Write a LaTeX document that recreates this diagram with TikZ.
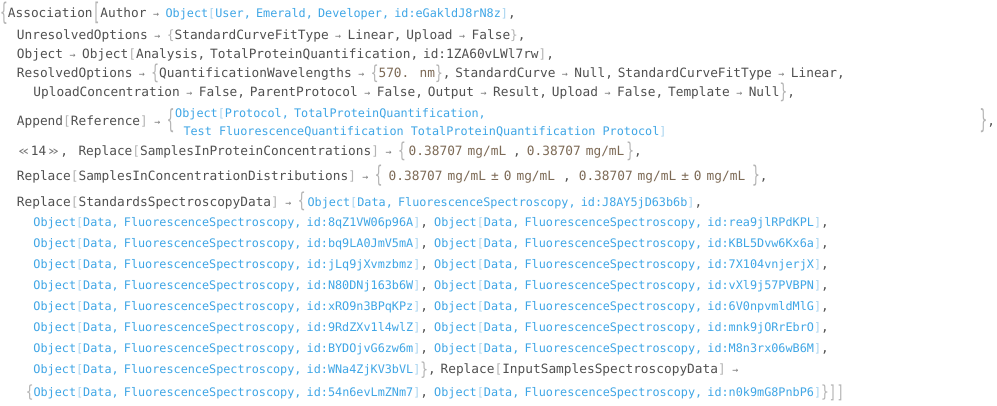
\documentclass[tikz,border=0pt]{standalone}
\usepackage{fontspec}
\usepackage{graphicx}
\newfontfamily\mono{DejaVu Sans Mono}
\definecolor{tgray}{HTML}{505050}
\definecolor{dgray}{HTML}{B4B4B4}
\definecolor{agray}{HTML}{7A7A7A}
\definecolor{oblue}{HTML}{3FA6E6}
\definecolor{oblk}{HTML}{A8D4F0}
\definecolor{qbr}{HTML}{7D6A56}
\newcommand\gfont{\mono\fontsize{12.8pt}{15pt}\selectfont}
\newcommand\bfont{\mono\fontsize{11.8pt}{14pt}\selectfont}
\newcommand\Ar{\hbox to 19pt{\hss{\fontsize{10pt}{10pt}\selectfont\color{agray}→}\hss}}
\newcommand\Cm{,\hspace{4.8pt}}
\newcommand\Bc{,\hspace{5.2pt}}
\newcommand\Lb{{\color{dgray}[}}
\newcommand\Rb{{\color{dgray}]}}
\newcommand\Lc{{\color{dgray}\{}}
\newcommand\Rc{{\color{dgray}\}}}
\newcommand\TD[3]{\raisebox{#3pt}{\scalebox{1}[#2]{\color{dgray}#1}}}
\newcommand\Ob[1]{{\bfont\color{oblue}Object{\color{oblk}[}#1{\color{oblk}]}}}
\newcommand\Qt[2]{{\color{qbr}#1\hspace{5pt}#2}}
\newcommand\FS[1]{\Ob{Data\Bc FluorescenceSpectroscopy\Bc id:#1}}
\tikzset{ln/.style={anchor=base west, inner sep=0pt, font=\gfont, text=tgray}}
\begin{document}
\begin{tikzpicture}[x=1pt,y=-1pt]
\fill[white] (0,0) rectangle (997,405);
\useasboundingbox (0,0) rectangle (997,405);
% line 1
\node[ln] (l1) at (0,17) {\TD{\{}{1.9}{-3.1}Association\TD{[}{1.9}{-3.1}Author\Ar\Ob{User\Bc Emerald\Bc Developer\Bc id:eGakldJ8rN8z},};
% line 2
\node[ln] (l2) at (16.7,39.5) {UnresolvedOptions\Ar\Lc StandardCurveFitType\Ar Linear\Cm Upload\Ar False\Rc,};
% line 3
\node[ln] (l3) at (16.7,58) {Object\Ar Object\Lb Analysis\Cm TotalProteinQuantification\Cm id:1ZA60vLWl7rw\Rb,};
% line 4
\node[ln] (l4) at (16.7,77.5) {ResolvedOptions\Ar\TD{\{}{1.6}{-1.9}QuantificationWavelengths\Ar\TD{\{}{1.5}{-2}{\color{qbr}570. nm}\TD{\}}{1.5}{-2}\Cm StandardCurve\Ar Null\Cm StandardCurveFitType\Ar Linear,};
% line 5
\node[ln] (l5) at (33.3,96.7) {UploadConcentration\Ar False\Cm ParentProtocol\Ar False\Cm Output\Ar Result\Cm Upload\Ar False\Cm Template\Ar Null\TD{\}}{1.6}{-2.2},};
% line 6
\node[ln] (l6) at (16.7,125) {Append\Lb Reference\Rb\Ar\TD{\{}{2.05}{-3.2}};
\node[ln, font=\bfont, text=oblue] (l6a) at (175,117.3) {\vtop{\baselineskip=17.7pt\lineskiplimit=-20pt\hbox{Object{\color{oblk}[}Protocol\Bc TotalProteinQuantification,}\hbox{\hspace{8.3pt}Test FluorescenceQuantification TotalProteinQuantification Protocol{\color{oblk}]}}}};
\node[ln] (l6c) at (979.5,125) {\TD{\}}{2.05}{-3.2},};
% line 7
\node[ln] (l7a) at (16.7,155.7) {\hbox to 14pt{\hss\scalebox{1.5}[1]{\color{agray}«}\hss}14\hbox to 14pt{\hss\scalebox{1.5}[1]{\color{agray}»}\hss},};
\node[ln] (l7) at (78.3,155.7) {Replace\Lb SamplesInProteinConcentrations\Rb\Ar\TD{\{}{1.6}{-1.9}\hspace{3pt}\Qt{0.38707}{mg/mL}\hspace{7pt},\hspace{6pt}\Qt{0.38707}{mg/mL}\hspace{2pt}\TD{\}}{1.6}{-1.9},};
% line 8
\node[ln] (l8) at (16.7,180) {Replace\Lb SamplesInConcentrationDistributions\Rb\Ar\TD{\{}{1.8}{-2.7}\hspace{6pt}\Qt{0.38707}{mg/mL}\hspace{5pt}{\color{qbr}±}\hspace{5pt}\Qt{0}{mg/mL}\hspace{8pt},\hspace{8pt}\Qt{0.38707}{mg/mL}\hspace{5pt}{\color{qbr}±}\hspace{5pt}\Qt{0}{mg/mL}\hspace{7pt}\TD{\}}{1.8}{-2.7},};
% line 9
\node[ln] (l9) at (16.7,206) {Replace\Lb StandardsSpectroscopyData\Rb\Ar\TD{\{}{1.6}{-1.9}\hspace{2pt}\FS{J8AY5jD63b6b},};
% object rows
\node[ln] (r1a) at (33.3,226.7) {\FS{8qZ1VW06p96A},};
\node[ln] (r1b) at (434,226.7) {\FS{rea9jlRPdKPL},};
\node[ln] (r2a) at (33.3,247.7) {\FS{bq9LA0JmV5mA},};
\node[ln] (r2b) at (434,247.7) {\FS{KBL5Dvw6Kx6a},};
\node[ln] (r3a) at (33.3,268.7) {\FS{jLq9jXvmzbmz},};
\node[ln] (r3b) at (434,268.7) {\FS{7X104vnjerjX},};
\node[ln] (r4a) at (33.3,289.7) {\FS{N80DNj163b6W},};
\node[ln] (r4b) at (434,289.7) {\FS{vXl9j57PVBPN},};
\node[ln] (r5a) at (33.3,310.7) {\FS{xRO9n3BPqKPz},};
\node[ln] (r5b) at (434,310.7) {\FS{6V0npvmldMlG},};
\node[ln] (r6a) at (33.3,331.7) {\FS{9RdZXv1l4wlZ},};
\node[ln] (r6b) at (434,331.7) {\FS{mnk9jORrEbrO},};
\node[ln] (r7a) at (33.3,352.7) {\FS{BYDOjvG6zw6m},};
\node[ln] (r7b) at (434,352.7) {\FS{M8n3rx06wB6M},};
\node[ln] (r8a) at (33.3,373.7) {\FS{WNa4ZjKV3bVL}\TD{\}}{1.4}{-1.6}\Cm Replace\Lb InputSamplesSpectroscopyData\Rb\Ar};
\node[ln] (r9a) at (25.6,396.7) {\TD{\{}{1.3}{-1.2}\FS{54n6evLmZNm7},};
\node[ln] (r9b) at (434,396.7) {\FS{n0k9mG8PnbP6}\TD{\}}{1.3}{-1.2}\TD{]}{1.4}{-1.6}\TD{]}{1.4}{-1.6}};
\end{tikzpicture}
\end{document}
